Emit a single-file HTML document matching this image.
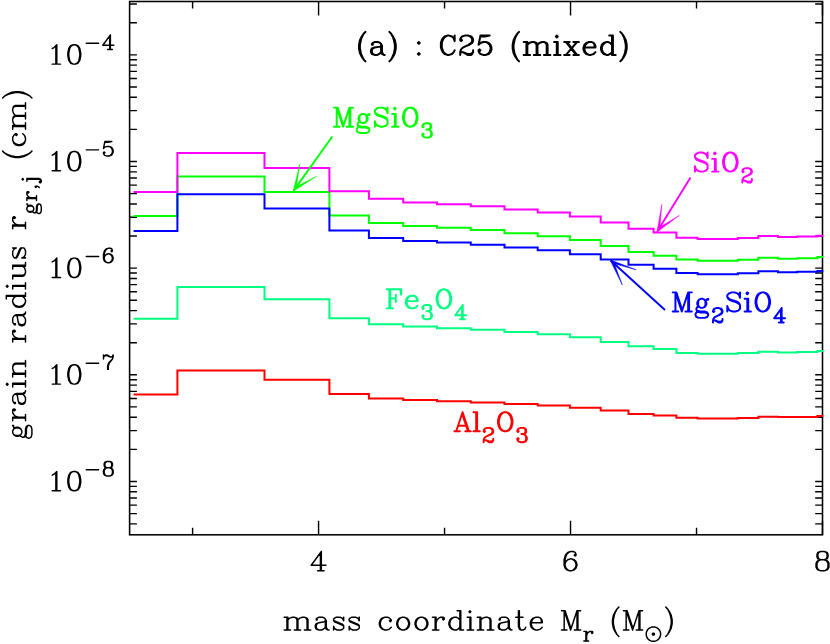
<!DOCTYPE html>
<html lang="en"><head><meta charset="utf-8"><title>Grain radius vs mass coordinate - (a) : C25 (mixed)</title>
<style>html,body{margin:0;padding:0;background:#fff;font-family:"Liberation Serif",serif}svg{display:block}</style>
</head><body>
<svg width="830" height="644" viewBox="0 0 830 644" role="img" aria-label="Grain radius versus mass coordinate, (a) : C25 (mixed)">
<rect width="830" height="644" fill="#fff"/>
<path d="M192.59 534.8v-7M192.59 1.5v7M318.57 534.8v-14M318.57 1.5v14M444.55 534.8v-7M444.55 1.5v7M570.54 534.8v-14M570.54 1.5v14M696.52 534.8v-7M696.52 1.5v7M822.50 534.8v-14M822.50 1.5v14M129.6 523.91h7.3M822.5 523.91h-7.3M129.6 513.58h7.3M822.5 513.58h-7.3M129.6 505.13h7.3M822.5 505.13h-7.3M129.6 497.99h7.3M822.5 497.99h-7.3M129.6 491.81h7.3M822.5 491.81h-7.3M129.6 486.35h7.3M822.5 486.35h-7.3M129.6 481.47h7.3M822.5 481.47h-7.3M129.6 449.36h7.3M822.5 449.36h-7.3M129.6 430.58h7.3M822.5 430.58h-7.3M129.6 417.25h7.3M822.5 417.25h-7.3M129.6 406.92h7.3M822.5 406.92h-7.3M129.6 398.47h7.3M822.5 398.47h-7.3M129.6 391.33h7.3M822.5 391.33h-7.3M129.6 385.15h7.3M822.5 385.15h-7.3M129.6 379.69h7.3M822.5 379.69h-7.3M129.6 374.81h7.3M822.5 374.81h-7.3M129.6 342.70h7.3M822.5 342.70h-7.3M129.6 323.92h7.3M822.5 323.92h-7.3M129.6 310.59h7.3M822.5 310.59h-7.3M129.6 300.26h7.3M822.5 300.26h-7.3M129.6 291.81h7.3M822.5 291.81h-7.3M129.6 284.67h7.3M822.5 284.67h-7.3M129.6 278.49h7.3M822.5 278.49h-7.3M129.6 273.03h7.3M822.5 273.03h-7.3M129.6 268.15h7.3M822.5 268.15h-7.3M129.6 236.04h7.3M822.5 236.04h-7.3M129.6 217.26h7.3M822.5 217.26h-7.3M129.6 203.93h7.3M822.5 203.93h-7.3M129.6 193.60h7.3M822.5 193.60h-7.3M129.6 185.15h7.3M822.5 185.15h-7.3M129.6 178.01h7.3M822.5 178.01h-7.3M129.6 171.83h7.3M822.5 171.83h-7.3M129.6 166.37h7.3M822.5 166.37h-7.3M129.6 161.49h7.3M822.5 161.49h-7.3M129.6 129.38h7.3M822.5 129.38h-7.3M129.6 110.60h7.3M822.5 110.60h-7.3M129.6 97.27h7.3M822.5 97.27h-7.3M129.6 86.94h7.3M822.5 86.94h-7.3M129.6 78.49h7.3M822.5 78.49h-7.3M129.6 71.35h7.3M822.5 71.35h-7.3M129.6 65.17h7.3M822.5 65.17h-7.3M129.6 59.71h7.3M822.5 59.71h-7.3M129.6 54.83h7.3M822.5 54.83h-7.3M129.6 22.72h7.3M822.5 22.72h-7.3M129.6 3.94h7.3M822.5 3.94h-7.3" stroke="#000" stroke-width="1.4" fill="none"/>
<rect x="129.6" y="1.5" width="692.90" height="533.30" fill="none" stroke="#000" stroke-width="1.55"/>
<g fill="none" stroke-width="2.0" stroke-linejoin="miter" stroke-linecap="butt">
<path d="M133.6 394.6H177.4V370.4H264.5V379.8H329.4V394.1H368.9V398.4H403.2V400.0H437.0V401.3H470.8V402.5H504.5V404.1H537.7V405.6H569.9V407.8H600.7V410.4H628.5V413.9H653.6V415.5H676.4V417.7H697.6V418.5H717.6V418.5H737.8V418.1H758.4V416.7H778.0V417.1H797.2V417.0H817.4V416.0H823.3" stroke="#ff0000"><title>Al2O3</title></path>
<path d="M133.6 318.7H177.4V287.0H264.5V299.3H329.4V318.2H368.9V324.2H403.2V326.4H437.0V328.2H470.8V329.8H504.5V332.0H537.7V334.2H569.9V337.3H600.7V341.9H628.5V346.3H653.6V349.1H676.4V352.9H697.6V353.8H717.6V353.8H737.8V353.1H758.4V351.7H778.0V352.4H797.2V351.9H817.4V351.0H823.3" stroke="#00ff80"><title>Fe3O4</title></path>
<path d="M133.6 216.1H177.4V176.6H264.5V192.0H329.4V215.6H368.9V222.9H403.2V225.9H437.0V227.8H470.8V230.1H504.5V233.3H537.7V236.2H569.9V240.1H600.7V245.9H628.5V252.0H653.6V255.7H676.4V259.4H697.6V260.7H717.6V260.7H737.8V259.8H758.4V257.8H778.0V258.8H797.2V258.2H817.4V257.0H823.3" stroke="#00ff00"><title>MgSiO3</title></path>
<path d="M133.6 231.0H177.4V194.2H264.5V208.4H329.4V230.6H368.9V237.9H403.2V240.9H437.0V242.6H470.8V244.8H504.5V247.5H537.7V250.2H569.9V254.2H600.7V259.4H628.5V264.8H653.6V268.8H676.4V272.9H697.6V274.2H717.6V274.2H737.8V273.3H758.4V271.3H778.0V272.3H797.2V271.7H817.4V270.9H823.3" stroke="#0000ff"><title>Mg2SiO4</title></path>
<path d="M133.6 192.0H177.4V152.9H264.5V168.0H329.4V191.3H368.9V198.8H403.2V202.4H437.0V204.3H470.8V206.2H504.5V209.5H537.7V212.6H569.9V216.4H600.7V222.4H628.5V228.7H653.6V232.6H676.4V237.7H697.6V238.9H717.6V238.9H737.8V238.0H758.4V236.0H778.0V237.0H797.2V236.4H817.4V235.7H823.3" stroke="#ff00ff"><title>SiO2</title></path>
</g>
<line x1="332.3" y1="136.5" x2="293.6" y2="190.6" stroke="#00ff00" stroke-width="1.9"/><polygon points="293.0,191.4 316.5,176.2 296.5,186.5 299.8,164.2" fill="#00ff00" stroke="#00ff00" stroke-width="0.5" stroke-linejoin="miter"/>
<line x1="690.5" y1="177.6" x2="657.4" y2="231.3" stroke="#ff00ff" stroke-width="1.9"/><polygon points="656.9,232.2 679.3,215.4 660.0,227.1 661.8,204.6" fill="#ff00ff" stroke="#ff00ff" stroke-width="0.5" stroke-linejoin="miter"/>
<line x1="665.0" y1="310.0" x2="610.7" y2="260.5" stroke="#0000ff" stroke-width="1.9"/><polygon points="610.0,259.8 622.3,284.9 614.4,263.8 636.2,269.8" fill="#0000ff" stroke="#0000ff" stroke-width="0.5" stroke-linejoin="miter"/>
<g fill="none" stroke-linecap="round" stroke-linejoin="round">
<g transform="translate(25.5 438.2) rotate(-90)" aria-label="grain radius r_gr,j (cm)"><path d="M5.49 -12.81L3.66 -11.89L2.75 -10.98L1.83 -9.15L1.83 -7.32L2.75 -5.49L3.66 -4.58L5.49 -3.66L7.32 -3.66L9.15 -4.58L10.06 -5.49L10.98 -7.32L10.98 -9.15L10.06 -10.98L9.15 -11.89L7.32 -12.81L5.49 -12.81M3.66 -11.89L2.75 -10.07L2.75 -6.41L3.66 -4.58M9.15 -4.58L10.06 -6.41L10.06 -10.07L9.15 -11.89M10.06 -10.98L10.98 -11.89L12.81 -12.81L12.81 -11.89L10.98 -11.89M2.75 -5.49L1.83 -4.58L0.92 -2.75L0.92 -1.83L1.83 0L4.58 0.92L9.15 0.92L11.9 1.83L12.81 2.75M0.92 -1.83L1.83 -0.92L4.58 0L9.15 0L11.9 0.92L12.81 2.75L12.81 3.66L11.9 5.49L9.15 6.41L3.66 6.41L0.92 5.49L0 3.66L0 2.75L0.92 0.92L3.66 0M20.13 -12.81L20.13 0M21.05 -12.81L21.05 0M21.05 -7.32L21.96 -10.07L23.79 -11.89L25.62 -12.81L28.37 -12.81L29.28 -11.89L29.28 -10.98L28.37 -10.07L27.45 -10.98L28.37 -11.89M17.39 -12.81L21.05 -12.81M17.39 0L23.79 0M35.69 -10.98L35.69 -10.07L34.77 -10.07L34.77 -10.98L35.69 -11.89L37.52 -12.81L41.17 -12.81L43 -11.89L43.92 -10.98L44.84 -9.15L44.84 -2.75L45.75 -0.92L46.66 0M43.92 -10.98L43.92 -2.75L44.84 -0.92L46.66 0L47.58 0M43.92 -9.15L43 -8.23L37.52 -7.32L34.77 -6.41L33.85 -4.58L33.85 -2.75L34.77 -0.92L37.52 0L40.26 0L42.09 -0.92L43.92 -2.75M37.52 -7.32L35.69 -6.41L34.77 -4.58L34.77 -2.75L35.69 -0.92L37.52 0M53.98 -19.21L53.07 -18.3L53.98 -17.39L54.9 -18.3L53.98 -19.21M53.98 -12.81L53.98 0M54.9 -12.81L54.9 0M51.24 -12.81L54.9 -12.81M51.24 0L57.64 0M64.05 -12.81L64.05 0M64.96 -12.81L64.96 0M64.96 -10.07L66.8 -11.89L69.54 -12.81L71.37 -12.81L74.11 -11.89L75.03 -10.07L75.03 0M71.37 -12.81L73.2 -11.89L74.11 -10.07L74.11 0M61.3 -12.81L64.96 -12.81M61.3 0L67.71 0M71.37 0L77.77 0M98.82 -12.81L98.82 0M99.73 -12.81L99.73 0M99.73 -7.32L100.65 -10.07L102.48 -11.89L104.31 -12.81L107.06 -12.81L107.97 -11.89L107.97 -10.98L107.06 -10.07L106.14 -10.98L107.06 -11.89M96.08 -12.81L99.73 -12.81M96.08 0L102.48 0M114.38 -10.98L114.38 -10.07L113.46 -10.07L113.46 -10.98L114.38 -11.89L116.2 -12.81L119.86 -12.81L121.69 -11.89L122.61 -10.98L123.52 -9.15L123.52 -2.75L124.44 -0.92L125.36 0M122.61 -10.98L122.61 -2.75L123.52 -0.92L125.36 0L126.27 0M122.61 -9.15L121.69 -8.23L116.2 -7.32L113.46 -6.41L112.55 -4.58L112.55 -2.75L113.46 -0.92L116.2 0L118.95 0L120.78 -0.92L122.61 -2.75M116.2 -7.32L114.38 -6.41L113.46 -4.58L113.46 -2.75L114.38 -0.92L116.2 0M141.82 -19.21L141.82 0M142.74 -19.21L142.74 0M141.82 -10.07L140 -11.89L138.16 -12.81L136.34 -12.81L133.59 -11.89L131.76 -10.07L130.84 -7.32L130.84 -5.49L131.76 -2.75L133.59 -0.92L136.34 0L138.16 0L140 -0.92L141.82 -2.75M136.34 -12.81L134.5 -11.89L132.67 -10.07L131.76 -7.32L131.76 -5.49L132.67 -2.75L134.5 -0.92L136.34 0M139.08 -19.21L142.74 -19.21M141.82 0L145.48 0M151.89 -19.21L150.97 -18.3L151.89 -17.39L152.81 -18.3L151.89 -19.21M151.89 -12.81L151.89 0M152.81 -12.81L152.81 0M149.15 -12.81L152.81 -12.81M149.15 0L155.55 0M161.95 -12.81L161.95 -2.75L162.87 -0.92L165.61 0L167.44 0L170.19 -0.92L172.02 -2.75M162.87 -12.81L162.87 -2.75L163.78 -0.92L165.61 0M172.02 -12.81L172.02 0M172.94 -12.81L172.94 0M159.21 -12.81L162.87 -12.81M169.28 -12.81L172.94 -12.81M172.02 0L175.68 0M189.41 -10.98L190.32 -12.81L190.32 -9.15L189.41 -10.98L188.49 -11.89L186.66 -12.81L183 -12.81L181.17 -11.89L180.25 -10.98L180.25 -9.15L181.17 -8.23L183 -7.32L187.57 -5.49L189.41 -4.58L190.32 -3.66M180.25 -10.07L181.17 -9.15L183 -8.23L187.57 -6.41L189.41 -5.49L190.32 -4.58L190.32 -1.83L189.41 -0.92L187.57 0L183.91 0L182.08 -0.92L181.17 -1.83L180.25 -3.66L180.25 0L181.17 -1.83M212.28 -12.81L212.28 0M213.2 -12.81L213.2 0M213.2 -7.32L214.11 -10.07L215.94 -11.89L217.77 -12.81L220.52 -12.81L221.43 -11.89L221.43 -10.98L220.52 -10.07L219.6 -10.98L220.52 -11.89M209.54 -12.81L213.2 -12.81M209.54 0L215.94 0M228.75 1.37L227.38 2.06L226.69 2.75L226.01 4.12L226.01 5.49L226.69 6.86L227.38 7.55L228.75 8.23L230.12 8.23L231.5 7.55L232.18 6.86L232.87 5.49L232.87 4.12L232.18 2.75L231.5 2.06L230.12 1.37L228.75 1.37M227.38 2.06L226.69 3.43L226.69 6.18L227.38 7.55M231.5 7.55L232.18 6.18L232.18 3.43L231.5 2.06M232.18 2.75L232.87 2.06L234.24 1.37L234.24 2.06L232.87 2.06M226.69 6.86L226.01 7.55L225.32 8.92L225.32 9.61L226.01 10.98L228.06 11.67L231.5 11.67L233.55 12.35L234.24 13.04M225.32 9.61L226.01 10.29L228.06 10.98L231.5 10.98L233.55 11.67L234.24 13.04L234.24 13.73L233.55 15.1L231.5 15.78L227.38 15.78L225.32 15.1L224.63 13.73L224.63 13.04L225.32 11.67L227.38 10.98M239.73 1.37L239.73 10.98M240.42 1.37L240.42 10.98M240.42 5.49L241.1 3.43L242.48 2.06L243.85 1.37L245.91 1.37L246.59 2.06L246.59 2.75L245.91 3.43L245.22 2.75L245.91 2.06M237.67 1.37L240.42 1.37M237.67 10.98L242.48 10.98M251.4 10.98L250.71 10.29L251.4 9.61L252.08 10.29L252.08 11.67L251.4 13.04L250.71 13.73M258.95 -3.43L258.26 -2.75L258.95 -2.06L259.63 -2.75L258.95 -3.43M259.63 1.37L259.63 13.73L258.95 15.1L257.57 15.78L256.2 15.78L255.51 15.1L255.51 14.41L256.2 13.73L256.89 14.41L256.2 15.1M258.95 1.37L258.95 13.73L258.26 15.1L257.57 15.78M256.89 1.37L259.63 1.37M287.08 -22.88L285.25 -21.05L283.42 -18.3L281.59 -14.64L280.68 -10.07L280.68 -6.41L281.59 -1.83L283.42 1.83L285.25 4.58L287.08 6.41M285.25 -21.05L283.42 -17.39L282.51 -14.64L281.59 -10.07L281.59 -6.41L282.51 -1.83L283.42 0.92L285.25 4.58M303.55 -10.07L302.64 -9.15L303.55 -8.23L304.47 -9.15L304.47 -10.07L302.64 -11.89L300.81 -12.81L298.06 -12.81L295.32 -11.89L293.49 -10.07L292.57 -7.32L292.57 -5.49L293.49 -2.75L295.32 -0.92L298.06 0L299.89 0L302.64 -0.92L304.47 -2.75M298.06 -12.81L296.23 -11.89L294.4 -10.07L293.49 -7.32L293.49 -5.49L294.4 -2.75L296.23 -0.92L298.06 0M311.79 -12.81L311.79 0M312.7 -12.81L312.7 0M312.7 -10.07L314.53 -11.89L317.28 -12.81L319.11 -12.81L321.85 -11.89L322.77 -10.07L322.77 0M319.11 -12.81L320.94 -11.89L321.85 -10.07L321.85 0M322.77 -10.07L324.6 -11.89L327.34 -12.81L329.17 -12.81L331.92 -11.89L332.83 -10.07L332.83 0M329.17 -12.81L331 -11.89L331.92 -10.07L331.92 0M309.04 -12.81L312.7 -12.81M309.04 0L315.45 0M319.11 0L325.51 0M329.17 0L335.58 0M340.15 -22.88L341.98 -21.05L343.81 -18.3L345.64 -14.64L346.56 -10.07L346.56 -6.41L345.64 -1.83L343.81 1.83L341.98 4.58L340.15 6.41M341.98 -21.05L343.81 -17.39L344.73 -14.64L345.64 -10.07L345.64 -6.41L344.73 -1.83L343.81 0.92L341.98 4.58" stroke="#000" stroke-width="1.45"/></g>
<g transform="translate(0 54.9)" aria-label="(a) : C25 (mixed)"><path d="M365.44 -23L363.6 -21.16L361.76 -18.4L359.92 -14.72L359 -10.12L359 -6.44L359.92 -1.84L361.76 1.84L363.6 4.6L365.44 6.44M363.6 -21.16L361.76 -17.48L360.84 -14.72L359.92 -10.12L359.92 -6.44L360.84 -1.84L361.76 0.92L363.6 4.6M372.8 -11.04L372.8 -10.12L371.88 -10.12L371.88 -11.04L372.8 -11.96L374.64 -12.88L378.32 -12.88L380.16 -11.96L381.08 -11.04L382 -9.2L382 -2.76L382.92 -0.92L383.84 0M381.08 -11.04L381.08 -2.76L382 -0.92L383.84 0L384.76 0M381.08 -9.2L380.16 -8.28L374.64 -7.36L371.88 -6.44L370.96 -4.6L370.96 -2.76L371.88 -0.92L374.64 0L377.4 0L379.24 -0.92L381.08 -2.76M374.64 -7.36L372.8 -6.44L371.88 -4.6L371.88 -2.76L372.8 -0.92L374.64 0M389.36 -23L391.2 -21.16L393.04 -18.4L394.88 -14.72L395.8 -10.12L395.8 -6.44L394.88 -1.84L393.04 1.84L391.2 4.6L389.36 6.44M391.2 -21.16L393.04 -17.48L393.96 -14.72L394.88 -10.12L394.88 -6.44L393.96 -1.84L393.04 0.92L391.2 4.6M418.8 -12.88L417.88 -11.96L418.8 -11.04L419.72 -11.96L418.8 -12.88M418.8 -1.84L417.88 -0.92L418.8 0L419.72 -0.92L418.8 -1.84M453.76 -16.56L454.68 -13.8L454.68 -19.32L453.76 -16.56L451.92 -18.4L449.16 -19.32L447.32 -19.32L444.56 -18.4L442.72 -16.56L441.8 -14.72L440.88 -11.96L440.88 -7.36L441.8 -4.6L442.72 -2.76L444.56 -0.92L447.32 0L449.16 0L451.92 -0.92L453.76 -2.76L454.68 -4.6M447.32 -19.32L445.48 -18.4L443.64 -16.56L442.72 -14.72L441.8 -11.96L441.8 -7.36L442.72 -4.6L443.64 -2.76L445.48 -0.92L447.32 0M461.12 -15.64L462.04 -14.72L461.12 -13.8L460.2 -14.72L460.2 -15.64L461.12 -17.48L462.04 -18.4L464.8 -19.32L468.48 -19.32L471.24 -18.4L472.16 -17.48L473.08 -15.64L473.08 -13.8L472.16 -11.96L469.4 -10.12L464.8 -8.28L462.96 -7.36L461.12 -5.52L460.2 -2.76L460.2 0M468.48 -19.32L470.32 -18.4L471.24 -17.48L472.16 -15.64L472.16 -13.8L471.24 -11.96L468.48 -10.12L464.8 -8.28M460.2 -1.84L461.12 -2.76L462.96 -2.76L467.56 -0.92L470.32 -0.92L472.16 -1.84L473.08 -2.76M462.96 -2.76L467.56 0L471.24 0L472.16 -0.92L473.08 -2.76L473.08 -4.6M480.44 -19.32L478.6 -10.12M478.6 -10.12L480.44 -11.96L483.2 -12.88L485.96 -12.88L488.72 -11.96L490.56 -10.12L491.48 -7.36L491.48 -5.52L490.56 -2.76L488.72 -0.92L485.96 0L483.2 0L480.44 -0.92L479.52 -1.84L478.6 -3.68L478.6 -4.6L479.52 -5.52L480.44 -4.6L479.52 -3.68M485.96 -12.88L487.8 -11.96L489.64 -10.12L490.56 -7.36L490.56 -5.52L489.64 -2.76L487.8 -0.92L485.96 0M480.44 -19.32L489.64 -19.32M480.44 -18.4L485.04 -18.4L489.64 -19.32M519.08 -23L517.24 -21.16L515.4 -18.4L513.56 -14.72L512.64 -10.12L512.64 -6.44L513.56 -1.84L515.4 1.84L517.24 4.6L519.08 6.44M517.24 -21.16L515.4 -17.48L514.48 -14.72L513.56 -10.12L513.56 -6.44L514.48 -1.84L515.4 0.92L517.24 4.6M526.44 -12.88L526.44 0M527.36 -12.88L527.36 0M527.36 -10.12L529.2 -11.96L531.96 -12.88L533.8 -12.88L536.56 -11.96L537.48 -10.12L537.48 0M533.8 -12.88L535.64 -11.96L536.56 -10.12L536.56 0M537.48 -10.12L539.32 -11.96L542.08 -12.88L543.92 -12.88L546.68 -11.96L547.6 -10.12L547.6 0M543.92 -12.88L545.76 -11.96L546.68 -10.12L546.68 0M523.68 -12.88L527.36 -12.88M523.68 0L530.12 0M533.8 0L540.24 0M543.92 0L550.36 0M556.8 -19.32L555.88 -18.4L556.8 -17.48L557.72 -18.4L556.8 -19.32M556.8 -12.88L556.8 0M557.72 -12.88L557.72 0M554.04 -12.88L557.72 -12.88M554.04 0L560.48 0M566 -12.88L576.12 0M566.92 -12.88L577.04 0M577.04 -12.88L566 0M564.16 -12.88L569.68 -12.88M573.36 -12.88L578.88 -12.88M564.16 0L569.68 0M573.36 0L578.88 0M584.4 -7.36L595.44 -7.36L595.44 -9.2L594.52 -11.04L593.6 -11.96L591.76 -12.88L589 -12.88L586.24 -11.96L584.4 -10.12L583.48 -7.36L583.48 -5.52L584.4 -2.76L586.24 -0.92L589 0L590.84 0L593.6 -0.92L595.44 -2.76M594.52 -7.36L594.52 -10.12L593.6 -11.96M589 -12.88L587.16 -11.96L585.32 -10.12L584.4 -7.36L584.4 -5.52L585.32 -2.76L587.16 -0.92L589 0M612 -19.32L612 0M612.92 -19.32L612.92 0M612 -10.12L610.16 -11.96L608.32 -12.88L606.48 -12.88L603.72 -11.96L601.88 -10.12L600.96 -7.36L600.96 -5.52L601.88 -2.76L603.72 -0.92L606.48 0L608.32 0L610.16 -0.92L612 -2.76M606.48 -12.88L604.64 -11.96L602.8 -10.12L601.88 -7.36L601.88 -5.52L602.8 -2.76L604.64 -0.92L606.48 0M609.24 -19.32L612.92 -19.32M612 0L615.68 0M620.28 -23L622.12 -21.16L623.96 -18.4L625.8 -14.72L626.72 -10.12L626.72 -6.44L625.8 -1.84L623.96 1.84L622.12 4.6L620.28 6.44M622.12 -21.16L623.96 -17.48L624.88 -14.72L625.8 -10.12L625.8 -6.44L624.88 -1.84L623.96 0.92L622.12 4.6" stroke="#000" stroke-width="2.0"/></g>
<g transform="translate(0 126.7)" aria-label="MgSiO3"><path d="M336.72 -19.07L336.72 0M337.63 -19.07L343.08 -2.72M336.72 -19.07L343.08 0M349.44 -19.07L343.08 0M349.44 -19.07L349.44 0M350.34 -19.07L350.34 0M334 -19.07L337.63 -19.07M349.44 -19.07L353.07 -19.07M334 0L339.45 0M346.71 0L353.07 0M362.15 -12.71L360.33 -11.8L359.42 -10.9L358.52 -9.08L358.52 -7.26L359.42 -5.45L360.33 -4.54L362.15 -3.63L363.96 -3.63L365.78 -4.54L366.69 -5.45L367.6 -7.26L367.6 -9.08L366.69 -10.9L365.78 -11.8L363.96 -12.71L362.15 -12.71M360.33 -11.8L359.42 -9.99L359.42 -6.36L360.33 -4.54M365.78 -4.54L366.69 -6.36L366.69 -9.99L365.78 -11.8M366.69 -10.9L367.6 -11.8L369.41 -12.71L369.41 -11.8L367.6 -11.8M359.42 -5.45L358.52 -4.54L357.61 -2.72L357.61 -1.82L358.52 0L361.24 0.91L365.78 0.91L368.5 1.82L369.41 2.72M357.61 -1.82L358.52 -0.91L361.24 0L365.78 0L368.5 0.91L369.41 2.72L369.41 3.63L368.5 5.45L365.78 6.36L360.33 6.36L357.61 5.45L356.7 3.63L356.7 2.72L357.61 0.91L360.33 0M386.66 -16.34L387.57 -19.07L387.57 -13.62L386.66 -16.34L384.85 -18.16L382.12 -19.07L379.4 -19.07L376.68 -18.16L374.86 -16.34L374.86 -14.53L375.77 -12.71L376.68 -11.8L378.49 -10.9L383.94 -9.08L385.76 -8.17L387.57 -6.36M374.86 -14.53L376.68 -12.71L378.49 -11.8L383.94 -9.99L385.76 -9.08L386.66 -8.17L387.57 -6.36L387.57 -2.72L385.76 -0.91L383.03 0L380.31 0L377.58 -0.91L375.77 -2.72L374.86 -5.45L374.86 0L375.77 -2.72M394.84 -19.07L393.93 -18.16L394.84 -17.25L395.74 -18.16L394.84 -19.07M394.84 -12.71L394.84 0M395.74 -12.71L395.74 0M392.11 -12.71L395.74 -12.71M392.11 0L398.47 0M409.36 -19.07L406.64 -18.16L404.82 -16.34L403.92 -14.53L403.01 -10.9L403.01 -8.17L403.92 -4.54L404.82 -2.72L406.64 -0.91L409.36 0L411.18 0L413.9 -0.91L415.72 -2.72L416.63 -4.54L417.54 -8.17L417.54 -10.9L416.63 -14.53L415.72 -16.34L413.9 -18.16L411.18 -19.07L409.36 -19.07M409.36 -19.07L407.55 -18.16L405.73 -16.34L404.82 -14.53L403.92 -10.9L403.92 -8.17L404.82 -4.54L405.73 -2.72L407.55 -0.91L409.36 0M411.18 0L413 -0.91L414.81 -2.72L415.72 -4.54L416.63 -8.17L416.63 -10.9L415.72 -14.53L414.81 -16.34L413 -18.16L411.18 -19.07M422.98 -0.68L423.67 0L422.98 0.68L422.3 0L422.3 -0.68L422.98 -2.04L423.67 -2.72L425.71 -3.41L428.43 -3.41L430.48 -2.72L431.16 -1.36L431.16 0.68L430.48 2.04L428.43 2.72L426.39 2.72M428.43 -3.41L429.79 -2.72L430.48 -1.36L430.48 0.68L429.79 2.04L428.43 2.72M428.43 2.72L429.79 3.41L431.16 4.77L431.84 6.13L431.84 8.17L431.16 9.53L430.48 10.21L428.43 10.9L425.71 10.9L423.67 10.21L422.98 9.53L422.3 8.17L422.3 7.49L422.98 6.81L423.67 7.49L422.98 8.17M430.48 4.09L431.16 6.13L431.16 8.17L430.48 9.53L429.79 10.21L428.43 10.9" stroke="#00ff00" stroke-width="1.95"/></g>
<g transform="translate(0 171.6)" aria-label="SiO2"><path d="M706.7 -16.34L707.61 -19.07L707.61 -13.62L706.7 -16.34L704.89 -18.16L702.16 -19.07L699.44 -19.07L696.72 -18.16L694.9 -16.34L694.9 -14.53L695.81 -12.71L696.72 -11.8L698.53 -10.9L703.98 -9.08L705.8 -8.17L707.61 -6.36M694.9 -14.53L696.72 -12.71L698.53 -11.8L703.98 -9.99L705.8 -9.08L706.7 -8.17L707.61 -6.36L707.61 -2.72L705.8 -0.91L703.07 0L700.35 0L697.62 -0.91L695.81 -2.72L694.9 -5.45L694.9 0L695.81 -2.72M714.88 -19.07L713.97 -18.16L714.88 -17.25L715.78 -18.16L714.88 -19.07M714.88 -12.71L714.88 0M715.78 -12.71L715.78 0M712.15 -12.71L715.78 -12.71M712.15 0L718.51 0M729.4 -19.07L726.68 -18.16L724.86 -16.34L723.96 -14.53L723.05 -10.9L723.05 -8.17L723.96 -4.54L724.86 -2.72L726.68 -0.91L729.4 0L731.22 0L733.94 -0.91L735.76 -2.72L736.67 -4.54L737.58 -8.17L737.58 -10.9L736.67 -14.53L735.76 -16.34L733.94 -18.16L731.22 -19.07L729.4 -19.07M729.4 -19.07L727.59 -18.16L725.77 -16.34L724.86 -14.53L723.96 -10.9L723.96 -8.17L724.86 -4.54L725.77 -2.72L727.59 -0.91L729.4 0M731.22 0L733.04 -0.91L734.85 -2.72L735.76 -4.54L736.67 -8.17L736.67 -10.9L735.76 -14.53L734.85 -16.34L733.04 -18.16L731.22 -19.07M743.02 -0.68L743.7 0L743.02 0.68L742.34 0L742.34 -0.68L743.02 -2.04L743.7 -2.72L745.75 -3.41L748.47 -3.41L750.51 -2.72L751.2 -2.04L751.88 -0.68L751.88 0.68L751.2 2.04L749.15 3.41L745.75 4.77L744.39 5.45L743.02 6.81L742.34 8.85L742.34 10.9M748.47 -3.41L749.83 -2.72L750.51 -2.04L751.2 -0.68L751.2 0.68L750.51 2.04L748.47 3.41L745.75 4.77M742.34 9.53L743.02 8.85L744.39 8.85L747.79 10.21L749.83 10.21L751.2 9.53L751.88 8.85M744.39 8.85L747.79 10.9L750.51 10.9L751.2 10.21L751.88 8.85L751.88 7.49" stroke="#ff00ff" stroke-width="1.95"/></g>
<g transform="translate(0 311.5)" aria-label="Mg2SiO4"><path d="M675.43 -19.11L675.43 0M676.34 -19.11L681.8 -2.73M675.43 -19.11L681.8 0M688.17 -19.11L681.8 0M688.17 -19.11L688.17 0M689.08 -19.11L689.08 0M672.7 -19.11L676.34 -19.11M688.17 -19.11L691.81 -19.11M672.7 0L678.16 0M685.44 0L691.81 0M700.91 -12.74L699.09 -11.83L698.18 -10.92L697.27 -9.1L697.27 -7.28L698.18 -5.46L699.09 -4.55L700.91 -3.64L702.73 -3.64L704.55 -4.55L705.46 -5.46L706.37 -7.28L706.37 -9.1L705.46 -10.92L704.55 -11.83L702.73 -12.74L700.91 -12.74M699.09 -11.83L698.18 -10.01L698.18 -6.37L699.09 -4.55M704.55 -4.55L705.46 -6.37L705.46 -10.01L704.55 -11.83M705.46 -10.92L706.37 -11.83L708.19 -12.74L708.19 -11.83L706.37 -11.83M698.18 -5.46L697.27 -4.55L696.36 -2.73L696.36 -1.82L697.27 0L700 0.91L704.55 0.91L707.28 1.82L708.19 2.73M696.36 -1.82L697.27 -0.91L700 0L704.55 0L707.28 0.91L708.19 2.73L708.19 3.64L707.28 5.46L704.55 6.37L699.09 6.37L696.36 5.46L695.45 3.64L695.45 2.73L696.36 0.91L699.09 0M713.65 -0.68L714.33 0L713.65 0.68L712.97 0L712.97 -0.68L713.65 -2.05L714.33 -2.73L716.38 -3.41L719.11 -3.41L721.16 -2.73L721.84 -2.05L722.52 -0.68L722.52 0.68L721.84 2.05L719.79 3.41L716.38 4.78L715.01 5.46L713.65 6.83L712.97 8.87L712.97 10.92M719.11 -3.41L720.47 -2.73L721.16 -2.05L721.84 -0.68L721.84 0.68L721.16 2.05L719.11 3.41L716.38 4.78M712.97 9.55L713.65 8.87L715.01 8.87L718.43 10.24L720.47 10.24L721.84 9.55L722.52 8.87M715.01 8.87L718.43 10.92L721.16 10.92L721.84 10.24L722.52 8.87L722.52 7.51M739.13 -16.38L740.04 -19.11L740.04 -13.65L739.13 -16.38L737.31 -18.2L734.58 -19.11L731.85 -19.11L729.12 -18.2L727.3 -16.38L727.3 -14.56L728.21 -12.74L729.12 -11.83L730.94 -10.92L736.4 -9.1L738.22 -8.19L740.04 -6.37M727.3 -14.56L729.12 -12.74L730.94 -11.83L736.4 -10.01L738.22 -9.1L739.13 -8.19L740.04 -6.37L740.04 -2.73L738.22 -0.91L735.49 0L732.76 0L730.03 -0.91L728.21 -2.73L727.3 -5.46L727.3 0L728.21 -2.73M747.32 -19.11L746.41 -18.2L747.32 -17.29L748.23 -18.2L747.32 -19.11M747.32 -12.74L747.32 0M748.23 -12.74L748.23 0M744.59 -12.74L748.23 -12.74M744.59 0L750.96 0M761.88 -19.11L759.15 -18.2L757.33 -16.38L756.42 -14.56L755.51 -10.92L755.51 -8.19L756.42 -4.55L757.33 -2.73L759.15 -0.91L761.88 0L763.7 0L766.43 -0.91L768.25 -2.73L769.16 -4.55L770.07 -8.19L770.07 -10.92L769.16 -14.56L768.25 -16.38L766.43 -18.2L763.7 -19.11L761.88 -19.11M761.88 -19.11L760.06 -18.2L758.24 -16.38L757.33 -14.56L756.42 -10.92L756.42 -8.19L757.33 -4.55L758.24 -2.73L760.06 -0.91L761.88 0M763.7 0L765.52 -0.91L767.34 -2.73L768.25 -4.55L769.16 -8.19L769.16 -10.92L768.25 -14.56L767.34 -16.38L765.52 -18.2L763.7 -19.11M780.99 -2.05L780.99 10.92M781.67 -3.41L781.67 10.92M781.67 -3.41L774.16 6.83L785.08 6.83M778.94 10.92L783.72 10.92" stroke="#0000ff" stroke-width="1.95"/></g>
<g transform="translate(0 308.4)" aria-label="Fe3O4"><path d="M389.42 -19.07L389.42 0M390.33 -19.07L390.33 0M395.78 -13.62L395.78 -6.36M386.7 -19.07L401.23 -19.07L401.23 -13.62L400.32 -19.07M390.33 -9.99L395.78 -9.99M386.7 0L393.06 0M406.68 -7.26L417.57 -7.26L417.57 -9.08L416.66 -10.9L415.76 -11.8L413.94 -12.71L411.22 -12.71L408.49 -11.8L406.68 -9.99L405.77 -7.26L405.77 -5.45L406.68 -2.72L408.49 -0.91L411.22 0L413.03 0L415.76 -0.91L417.57 -2.72M416.66 -7.26L416.66 -9.99L415.76 -11.8M411.22 -12.71L409.4 -11.8L407.58 -9.99L406.68 -7.26L406.68 -5.45L407.58 -2.72L409.4 -0.91L411.22 0M423.02 -0.68L423.7 0L423.02 0.68L422.34 0L422.34 -0.68L423.02 -2.04L423.7 -2.72L425.74 -3.41L428.47 -3.41L430.51 -2.72L431.19 -1.36L431.19 0.68L430.51 2.04L428.47 2.72L426.43 2.72M428.47 -3.41L429.83 -2.72L430.51 -1.36L430.51 0.68L429.83 2.04L428.47 2.72M428.47 2.72L429.83 3.41L431.19 4.77L431.87 6.13L431.87 8.17L431.19 9.53L430.51 10.21L428.47 10.9L425.74 10.9L423.7 10.21L423.02 9.53L422.34 8.17L422.34 7.49L423.02 6.81L423.7 7.49L423.02 8.17M430.51 4.09L431.19 6.13L431.19 8.17L430.51 9.53L429.83 10.21L428.47 10.9M443 -19.07L440.27 -18.16L438.46 -16.34L437.55 -14.53L436.64 -10.9L436.64 -8.17L437.55 -4.54L438.46 -2.72L440.27 -0.91L443 0L444.81 0L447.54 -0.91L449.35 -2.72L450.26 -4.54L451.17 -8.17L451.17 -10.9L450.26 -14.53L449.35 -16.34L447.54 -18.16L444.81 -19.07L443 -19.07M443 -19.07L441.18 -18.16L439.36 -16.34L438.46 -14.53L437.55 -10.9L437.55 -8.17L438.46 -4.54L439.36 -2.72L441.18 -0.91L443 0M444.81 0L446.63 -0.91L448.44 -2.72L449.35 -4.54L450.26 -8.17L450.26 -10.9L449.35 -14.53L448.44 -16.34L446.63 -18.16L444.81 -19.07M462.06 -2.04L462.06 10.9M462.75 -3.41L462.75 10.9M462.75 -3.41L455.25 6.81L466.15 6.81M460.02 10.9L464.79 10.9" stroke="#00ff80" stroke-width="1.95"/></g>
<g transform="translate(0 431.3)" aria-label="Al2O3"><path d="M462.57 -19.07L456.22 0M462.57 -19.07L468.93 0M462.57 -16.34L468.02 0M458.03 -5.45L466.2 -5.45M454.4 0L459.85 0M465.3 0L470.74 0M476.19 -19.07L476.19 0M477.1 -19.07L477.1 0M473.47 -19.07L477.1 -19.07M473.47 0L479.82 0M484.36 -0.68L485.04 0L484.36 0.68L483.68 0L483.68 -0.68L484.36 -2.04L485.04 -2.72L487.09 -3.41L489.81 -3.41L491.85 -2.72L492.54 -2.04L493.22 -0.68L493.22 0.68L492.54 2.04L490.49 3.41L487.09 4.77L485.73 5.45L484.36 6.81L483.68 8.85L483.68 10.9M489.81 -3.41L491.17 -2.72L491.85 -2.04L492.54 -0.68L492.54 0.68L491.85 2.04L489.81 3.41L487.09 4.77M483.68 9.53L484.36 8.85L485.73 8.85L489.13 10.21L491.17 10.21L492.54 9.53L493.22 8.85M485.73 8.85L489.13 10.9L491.85 10.9L492.54 10.21L493.22 8.85L493.22 7.49M504.34 -19.07L501.62 -18.16L499.8 -16.34L498.89 -14.53L497.98 -10.9L497.98 -8.17L498.89 -4.54L499.8 -2.72L501.62 -0.91L504.34 0L506.16 0L508.88 -0.91L510.7 -2.72L511.6 -4.54L512.51 -8.17L512.51 -10.9L511.6 -14.53L510.7 -16.34L508.88 -18.16L506.16 -19.07L504.34 -19.07M504.34 -19.07L502.52 -18.16L500.71 -16.34L499.8 -14.53L498.89 -10.9L498.89 -8.17L499.8 -4.54L500.71 -2.72L502.52 -0.91L504.34 0M506.16 0L507.97 -0.91L509.79 -2.72L510.7 -4.54L511.6 -8.17L511.6 -10.9L510.7 -14.53L509.79 -16.34L507.97 -18.16L506.16 -19.07M517.96 -0.68L518.64 0L517.96 0.68L517.28 0L517.28 -0.68L517.96 -2.04L518.64 -2.72L520.68 -3.41L523.41 -3.41L525.45 -2.72L526.13 -1.36L526.13 0.68L525.45 2.04L523.41 2.72L521.37 2.72M523.41 -3.41L524.77 -2.72L525.45 -1.36L525.45 0.68L524.77 2.04L523.41 2.72M523.41 2.72L524.77 3.41L526.13 4.77L526.81 6.13L526.81 8.17L526.13 9.53L525.45 10.21L523.41 10.9L520.68 10.9L518.64 10.21L517.96 9.53L517.28 8.17L517.28 7.49L517.96 6.81L518.64 7.49L517.96 8.17M525.45 4.09L526.13 6.13L526.13 8.17L525.45 9.53L524.77 10.21L523.41 10.9" stroke="#ff0000" stroke-width="1.95"/></g>
<g transform="translate(0 570.8)" aria-label="4"><path d="M320.41 -17.48L320.41 0M321.33 -19.32L321.33 0M321.33 -19.32L311.21 -5.52L325.93 -5.52M317.65 0L324.09 0" stroke="#000" stroke-width="1.45"/></g>
<g transform="translate(0 570.8)" aria-label="6"><path d="M575.14 -16.56L574.22 -15.64L575.14 -14.72L576.06 -15.64L576.06 -16.56L575.14 -18.4L573.3 -19.32L570.54 -19.32L567.78 -18.4L565.94 -16.56L565.02 -14.72L564.1 -11.04L564.1 -5.52L565.02 -2.76L566.86 -0.92L569.62 0L571.46 0L574.22 -0.92L576.06 -2.76L576.98 -5.52L576.98 -6.44L576.06 -9.2L574.22 -11.04L571.46 -11.96L570.54 -11.96L567.78 -11.04L565.94 -9.2L565.02 -6.44M570.54 -19.32L568.7 -18.4L566.86 -16.56L565.94 -14.72L565.02 -11.04L565.02 -5.52L565.94 -2.76L567.78 -0.92L569.62 0M571.46 0L573.3 -0.92L575.14 -2.76L576.06 -5.52L576.06 -6.44L575.14 -9.2L573.3 -11.04L571.46 -11.96" stroke="#000" stroke-width="1.45"/></g>
<g transform="translate(0 570.8)" aria-label="8"><path d="M820.66 -19.32L817.9 -18.4L816.98 -16.56L816.98 -13.8L817.9 -11.96L820.66 -11.04L824.34 -11.04L827.1 -11.96L828.02 -13.8L828.02 -16.56L827.1 -18.4L824.34 -19.32L820.66 -19.32M820.66 -19.32L818.82 -18.4L817.9 -16.56L817.9 -13.8L818.82 -11.96L820.66 -11.04M824.34 -11.04L826.18 -11.96L827.1 -13.8L827.1 -16.56L826.18 -18.4L824.34 -19.32M820.66 -11.04L817.9 -10.12L816.98 -9.2L816.06 -7.36L816.06 -3.68L816.98 -1.84L817.9 -0.92L820.66 0L824.34 0L827.1 -0.92L828.02 -1.84L828.94 -3.68L828.94 -7.36L828.02 -9.2L827.1 -10.12L824.34 -11.04M820.66 -11.04L818.82 -10.12L817.9 -9.2L816.98 -7.36L816.98 -3.68L817.9 -1.84L818.82 -0.92L820.66 0M824.34 0L826.18 -0.92L827.1 -1.84L828.02 -3.68L828.02 -7.36L827.1 -9.2L826.18 -10.12L824.34 -11.04" stroke="#000" stroke-width="1.45"/></g>
<g transform="translate(0 490.77)" aria-label="10^-8"><path d="M52.2 -15.64L54.04 -16.56L56.8 -19.32L56.8 0M55.88 -18.4L55.88 0M52.2 0L60.48 0M73.36 -19.32L70.6 -18.4L68.76 -15.64L67.84 -11.04L67.84 -8.28L68.76 -3.68L70.6 -0.92L73.36 0L75.2 0L77.96 -0.92L79.8 -3.68L80.72 -8.28L80.72 -11.04L79.8 -15.64L77.96 -18.4L75.2 -19.32L73.36 -19.32M73.36 -19.32L71.52 -18.4L70.6 -17.48L69.68 -15.64L68.76 -11.04L68.76 -8.28L69.68 -3.68L70.6 -1.84L71.52 -0.92L73.36 0M75.2 0L77.04 -0.92L77.96 -1.84L78.88 -3.68L79.8 -8.28L79.8 -11.04L78.88 -15.64L77.96 -17.48L77.04 -18.4L75.2 -19.32M86.24 -20.93L98.66 -20.93M106.94 -29.21L104.87 -28.52L104.18 -27.14L104.18 -25.07L104.87 -23.69L106.94 -23L109.7 -23L111.77 -23.69L112.46 -25.07L112.46 -27.14L111.77 -28.52L109.7 -29.21L106.94 -29.21M106.94 -29.21L105.56 -28.52L104.87 -27.14L104.87 -25.07L105.56 -23.69L106.94 -23M109.7 -23L111.08 -23.69L111.77 -25.07L111.77 -27.14L111.08 -28.52L109.7 -29.21M106.94 -23L104.87 -22.31L104.18 -21.62L103.49 -20.24L103.49 -17.48L104.18 -16.1L104.87 -15.41L106.94 -14.72L109.7 -14.72L111.77 -15.41L112.46 -16.1L113.15 -17.48L113.15 -20.24L112.46 -21.62L111.77 -22.31L109.7 -23M106.94 -23L105.56 -22.31L104.87 -21.62L104.18 -20.24L104.18 -17.48L104.87 -16.1L105.56 -15.41L106.94 -14.72M109.7 -14.72L111.08 -15.41L111.77 -16.1L112.46 -17.48L112.46 -20.24L111.77 -21.62L111.08 -22.31L109.7 -23" stroke="#000" stroke-width="1.45"/></g>
<g transform="translate(0 384.11)" aria-label="10^-7"><path d="M52.2 -15.64L54.04 -16.56L56.8 -19.32L56.8 0M55.88 -18.4L55.88 0M52.2 0L60.48 0M73.36 -19.32L70.6 -18.4L68.76 -15.64L67.84 -11.04L67.84 -8.28L68.76 -3.68L70.6 -0.92L73.36 0L75.2 0L77.96 -0.92L79.8 -3.68L80.72 -8.28L80.72 -11.04L79.8 -15.64L77.96 -18.4L75.2 -19.32L73.36 -19.32M73.36 -19.32L71.52 -18.4L70.6 -17.48L69.68 -15.64L68.76 -11.04L68.76 -8.28L69.68 -3.68L70.6 -1.84L71.52 -0.92L73.36 0M75.2 0L77.04 -0.92L77.96 -1.84L78.88 -3.68L79.8 -8.28L79.8 -11.04L78.88 -15.64L77.96 -17.48L77.04 -18.4L75.2 -19.32M86.24 -20.93L98.66 -20.93M103.49 -29.21L103.49 -25.07M103.49 -26.45L104.18 -27.83L105.56 -29.21L106.94 -29.21L110.39 -27.14L111.77 -27.14L112.46 -27.83L113.15 -29.21M104.18 -27.83L105.56 -28.52L106.94 -28.52L110.39 -27.14M113.15 -29.21L113.15 -27.14L112.46 -25.07L109.7 -21.62L109.01 -20.24L108.32 -18.17L108.32 -14.72M112.46 -25.07L109.01 -21.62L108.32 -20.24L107.63 -18.17L107.63 -14.72" stroke="#000" stroke-width="1.45"/></g>
<g transform="translate(0 277.45)" aria-label="10^-6"><path d="M52.2 -15.64L54.04 -16.56L56.8 -19.32L56.8 0M55.88 -18.4L55.88 0M52.2 0L60.48 0M73.36 -19.32L70.6 -18.4L68.76 -15.64L67.84 -11.04L67.84 -8.28L68.76 -3.68L70.6 -0.92L73.36 0L75.2 0L77.96 -0.92L79.8 -3.68L80.72 -8.28L80.72 -11.04L79.8 -15.64L77.96 -18.4L75.2 -19.32L73.36 -19.32M73.36 -19.32L71.52 -18.4L70.6 -17.48L69.68 -15.64L68.76 -11.04L68.76 -8.28L69.68 -3.68L70.6 -1.84L71.52 -0.92L73.36 0M75.2 0L77.04 -0.92L77.96 -1.84L78.88 -3.68L79.8 -8.28L79.8 -11.04L78.88 -15.64L77.96 -17.48L77.04 -18.4L75.2 -19.32M86.24 -20.93L98.66 -20.93M111.77 -27.14L111.08 -26.45L111.77 -25.76L112.46 -26.45L112.46 -27.14L111.77 -28.52L110.39 -29.21L108.32 -29.21L106.25 -28.52L104.87 -27.14L104.18 -25.76L103.49 -23L103.49 -18.86L104.18 -16.79L105.56 -15.41L107.63 -14.72L109.01 -14.72L111.08 -15.41L112.46 -16.79L113.15 -18.86L113.15 -19.55L112.46 -21.62L111.08 -23L109.01 -23.69L108.32 -23.69L106.25 -23L104.87 -21.62L104.18 -19.55M108.32 -29.21L106.94 -28.52L105.56 -27.14L104.87 -25.76L104.18 -23L104.18 -18.86L104.87 -16.79L106.25 -15.41L107.63 -14.72M109.01 -14.72L110.39 -15.41L111.77 -16.79L112.46 -18.86L112.46 -19.55L111.77 -21.62L110.39 -23L109.01 -23.69" stroke="#000" stroke-width="1.45"/></g>
<g transform="translate(0 170.79000000000002)" aria-label="10^-5"><path d="M52.2 -15.64L54.04 -16.56L56.8 -19.32L56.8 0M55.88 -18.4L55.88 0M52.2 0L60.48 0M73.36 -19.32L70.6 -18.4L68.76 -15.64L67.84 -11.04L67.84 -8.28L68.76 -3.68L70.6 -0.92L73.36 0L75.2 0L77.96 -0.92L79.8 -3.68L80.72 -8.28L80.72 -11.04L79.8 -15.64L77.96 -18.4L75.2 -19.32L73.36 -19.32M73.36 -19.32L71.52 -18.4L70.6 -17.48L69.68 -15.64L68.76 -11.04L68.76 -8.28L69.68 -3.68L70.6 -1.84L71.52 -0.92L73.36 0M75.2 0L77.04 -0.92L77.96 -1.84L78.88 -3.68L79.8 -8.28L79.8 -11.04L78.88 -15.64L77.96 -17.48L77.04 -18.4L75.2 -19.32M86.24 -20.93L98.66 -20.93M104.87 -29.21L103.49 -22.31M103.49 -22.31L104.87 -23.69L106.94 -24.38L109.01 -24.38L111.08 -23.69L112.46 -22.31L113.15 -20.24L113.15 -18.86L112.46 -16.79L111.08 -15.41L109.01 -14.72L106.94 -14.72L104.87 -15.41L104.18 -16.1L103.49 -17.48L103.49 -18.17L104.18 -18.86L104.87 -18.17L104.18 -17.48M109.01 -24.38L110.39 -23.69L111.77 -22.31L112.46 -20.24L112.46 -18.86L111.77 -16.79L110.39 -15.41L109.01 -14.72M104.87 -29.21L111.77 -29.21M104.87 -28.52L108.32 -28.52L111.77 -29.21" stroke="#000" stroke-width="1.45"/></g>
<g transform="translate(0 64.13)" aria-label="10^-4"><path d="M52.2 -15.64L54.04 -16.56L56.8 -19.32L56.8 0M55.88 -18.4L55.88 0M52.2 0L60.48 0M73.36 -19.32L70.6 -18.4L68.76 -15.64L67.84 -11.04L67.84 -8.28L68.76 -3.68L70.6 -0.92L73.36 0L75.2 0L77.96 -0.92L79.8 -3.68L80.72 -8.28L80.72 -11.04L79.8 -15.64L77.96 -18.4L75.2 -19.32L73.36 -19.32M73.36 -19.32L71.52 -18.4L70.6 -17.48L69.68 -15.64L68.76 -11.04L68.76 -8.28L69.68 -3.68L70.6 -1.84L71.52 -0.92L73.36 0M75.2 0L77.04 -0.92L77.96 -1.84L78.88 -3.68L79.8 -8.28L79.8 -11.04L78.88 -15.64L77.96 -17.48L77.04 -18.4L75.2 -19.32M86.24 -20.93L98.66 -20.93M109.7 -27.83L109.7 -14.72M110.39 -29.21L110.39 -14.72M110.39 -29.21L102.8 -18.86L113.84 -18.86M107.63 -14.72L112.46 -14.72" stroke="#000" stroke-width="1.45"/></g>
<g transform="translate(0 630.0)" aria-label="mass coordinate M_r (M_sun)"><path d="M286.94 -12.81L286.94 0M287.86 -12.81L287.86 0M287.86 -10.07L289.69 -11.89L292.44 -12.81L294.26 -12.81L297.01 -11.89L297.93 -10.07L297.93 0M294.26 -12.81L296.1 -11.89L297.01 -10.07L297.01 0M297.93 -10.07L299.75 -11.89L302.5 -12.81L304.33 -12.81L307.07 -11.89L307.99 -10.07L307.99 0M304.33 -12.81L306.16 -11.89L307.07 -10.07L307.07 0M284.2 -12.81L287.86 -12.81M284.2 0L290.61 0M294.26 0L300.67 0M304.33 0L310.74 0M317.14 -10.98L317.14 -10.07L316.23 -10.07L316.23 -10.98L317.14 -11.89L318.97 -12.81L322.63 -12.81L324.46 -11.89L325.38 -10.98L326.29 -9.15L326.29 -2.75L327.2 -0.92L328.12 0M325.38 -10.98L325.38 -2.75L326.29 -0.92L328.12 0L329.04 0M325.38 -9.15L324.46 -8.23L318.97 -7.32L316.23 -6.41L315.31 -4.58L315.31 -2.75L316.23 -0.92L318.97 0L321.72 0L323.55 -0.92L325.38 -2.75M318.97 -7.32L317.14 -6.41L316.23 -4.58L316.23 -2.75L317.14 -0.92L318.97 0M342.76 -10.98L343.68 -12.81L343.68 -9.15L342.76 -10.98L341.85 -11.89L340.01 -12.81L336.36 -12.81L334.52 -11.89L333.61 -10.98L333.61 -9.15L334.52 -8.23L336.36 -7.32L340.93 -5.49L342.76 -4.58L343.68 -3.66M333.61 -10.07L334.52 -9.15L336.36 -8.23L340.93 -6.41L342.76 -5.49L343.68 -4.58L343.68 -1.83L342.76 -0.92L340.93 0L337.27 0L335.44 -0.92L334.52 -1.83L333.61 -3.66L333.61 0L334.52 -1.83M358.31 -10.98L359.23 -12.81L359.23 -9.15L358.31 -10.98L357.4 -11.89L355.57 -12.81L351.91 -12.81L350.08 -11.89L349.17 -10.98L349.17 -9.15L350.08 -8.23L351.91 -7.32L356.49 -5.49L358.31 -4.58L359.23 -3.66M349.17 -10.07L350.08 -9.15L351.91 -8.23L356.49 -6.41L358.31 -5.49L359.23 -4.58L359.23 -1.83L358.31 -0.92L356.49 0L352.83 0L351 -0.92L350.08 -1.83L349.17 -3.66L349.17 0L350.08 -1.83M390.34 -10.07L389.43 -9.15L390.34 -8.23L391.25 -9.15L391.25 -10.07L389.43 -11.89L387.6 -12.81L384.85 -12.81L382.11 -11.89L380.28 -10.07L379.36 -7.32L379.36 -5.49L380.28 -2.75L382.11 -0.92L384.85 0L386.68 0L389.43 -0.92L391.25 -2.75M384.85 -12.81L383.02 -11.89L381.19 -10.07L380.28 -7.32L380.28 -5.49L381.19 -2.75L383.02 -0.92L384.85 0M402.24 -12.81L399.49 -11.89L397.66 -10.07L396.75 -7.32L396.75 -5.49L397.66 -2.75L399.49 -0.92L402.24 0L404.07 0L406.81 -0.92L408.64 -2.75L409.56 -5.49L409.56 -7.32L408.64 -10.07L406.81 -11.89L404.07 -12.81L402.24 -12.81M402.24 -12.81L400.41 -11.89L398.58 -10.07L397.66 -7.32L397.66 -5.49L398.58 -2.75L400.41 -0.92L402.24 0M404.07 0L405.9 -0.92L407.73 -2.75L408.64 -5.49L408.64 -7.32L407.73 -10.07L405.9 -11.89L404.07 -12.81M420.54 -12.81L417.79 -11.89L415.96 -10.07L415.05 -7.32L415.05 -5.49L415.96 -2.75L417.79 -0.92L420.54 0L422.37 0L425.11 -0.92L426.94 -2.75L427.86 -5.49L427.86 -7.32L426.94 -10.07L425.11 -11.89L422.37 -12.81L420.54 -12.81M420.54 -12.81L418.71 -11.89L416.88 -10.07L415.96 -7.32L415.96 -5.49L416.88 -2.75L418.71 -0.92L420.54 0M422.37 0L424.2 -0.92L426.03 -2.75L426.94 -5.49L426.94 -7.32L426.03 -10.07L424.2 -11.89L422.37 -12.81M435.18 -12.81L435.18 0M436.09 -12.81L436.09 0M436.09 -7.32L437.01 -10.07L438.84 -11.89L440.67 -12.81L443.41 -12.81L444.33 -11.89L444.33 -10.98L443.41 -10.07L442.5 -10.98L443.41 -11.89M432.43 -12.81L436.09 -12.81M432.43 0L438.84 0M459.88 -19.21L459.88 0M460.8 -19.21L460.8 0M459.88 -10.07L458.05 -11.89L456.22 -12.81L454.39 -12.81L451.65 -11.89L449.82 -10.07L448.9 -7.32L448.9 -5.49L449.82 -2.75L451.65 -0.92L454.39 0L456.22 0L458.05 -0.92L459.88 -2.75M454.39 -12.81L452.56 -11.89L450.73 -10.07L449.82 -7.32L449.82 -5.49L450.73 -2.75L452.56 -0.92L454.39 0M457.14 -19.21L460.8 -19.21M459.88 0L463.54 0M469.95 -19.21L469.03 -18.3L469.95 -17.39L470.86 -18.3L469.95 -19.21M469.95 -12.81L469.95 0M470.86 -12.81L470.86 0M467.2 -12.81L470.86 -12.81M467.2 0L473.61 0M480.01 -12.81L480.01 0M480.93 -12.81L480.93 0M480.93 -10.07L482.76 -11.89L485.5 -12.81L487.33 -12.81L490.08 -11.89L490.99 -10.07L490.99 0M487.33 -12.81L489.16 -11.89L490.08 -10.07L490.08 0M477.27 -12.81L480.93 -12.81M477.27 0L483.67 0M487.33 0L493.74 0M500.14 -10.98L500.14 -10.07L499.23 -10.07L499.23 -10.98L500.14 -11.89L501.97 -12.81L505.63 -12.81L507.46 -11.89L508.38 -10.98L509.29 -9.15L509.29 -2.75L510.21 -0.92L511.12 0M508.38 -10.98L508.38 -2.75L509.29 -0.92L511.12 0L512.04 0M508.38 -9.15L507.46 -8.23L501.97 -7.32L499.23 -6.41L498.31 -4.58L498.31 -2.75L499.23 -0.92L501.97 0L504.72 0L506.55 -0.92L508.38 -2.75M501.97 -7.32L500.14 -6.41L499.23 -4.58L499.23 -2.75L500.14 -0.92L501.97 0M518.44 -19.21L518.44 -3.66L519.36 -0.92L521.19 0L523.02 0L524.85 -0.92L525.76 -2.75M519.36 -19.21L519.36 -3.66L520.27 -0.92L521.19 0M515.7 -12.81L523.02 -12.81M531.25 -7.32L542.23 -7.32L542.23 -9.15L541.32 -10.98L540.4 -11.89L538.57 -12.81L535.83 -12.81L533.08 -11.89L531.25 -10.07L530.34 -7.32L530.34 -5.49L531.25 -2.75L533.08 -0.92L535.83 0L537.66 0L540.4 -0.92L542.23 -2.75M541.32 -7.32L541.32 -10.07L540.4 -11.89M535.83 -12.81L534 -11.89L532.17 -10.07L531.25 -7.32L531.25 -5.49L532.17 -2.75L534 -0.92L535.83 0M564.19 -19.21L564.19 0M565.11 -19.21L570.6 -2.75M564.19 -19.21L570.6 0M577 -19.21L570.6 0M577 -19.21L577 0M577.92 -19.21L577.92 0M561.45 -19.21L565.11 -19.21M577 -19.21L580.66 -19.21M561.45 0L566.94 0M574.26 0L580.66 0M585.92 1.37L585.92 10.98M586.61 1.37L586.61 10.98M586.61 5.49L587.29 3.43L588.67 2.06L590.04 1.37L592.1 1.37L592.78 2.06L592.78 2.75L592.1 3.43L591.41 2.75L592.1 2.06M583.86 1.37L586.61 1.37M583.86 10.98L588.67 10.98M618.86 -22.88L617.03 -21.05L615.2 -18.3L613.37 -14.64L612.46 -10.07L612.46 -6.41L613.37 -1.83L615.2 1.83L617.03 4.58L618.86 6.41M617.03 -21.05L615.2 -17.39L614.29 -14.64L613.37 -10.07L613.37 -6.41L614.29 -1.83L615.2 0.92L617.03 4.58M626.18 -19.21L626.18 0M627.1 -19.21L632.59 -2.75M626.18 -19.21L632.59 0M638.99 -19.21L632.59 0M638.99 -19.21L638.99 0M639.91 -19.21L639.91 0M623.44 -19.21L627.1 -19.21M638.99 -19.21L642.65 -19.21M623.44 0L628.93 0M636.25 0L642.65 0M660.61 4.12L660.5 5.37L660.17 6.58L659.64 7.72L658.92 8.75L658.03 9.64L657.01 10.36L655.87 10.89L654.65 11.21L653.4 11.32L652.15 11.21L650.94 10.89L649.8 10.36L648.77 9.64L647.88 8.75L647.16 7.72L646.63 6.58L646.31 5.37L646.2 4.12L646.31 2.87L646.63 1.65L647.16 0.51L647.88 -0.51L648.77 -1.4L649.8 -2.12L650.94 -2.65L652.15 -2.98L653.4 -3.09L654.65 -2.98L655.87 -2.65L657.01 -2.12L658.03 -1.4L658.92 -0.51L659.64 0.51L660.17 1.65L660.5 2.87L660.61 4.12M654.43 4.12L654.24 4.72L653.72 5.1L653.08 5.1L652.57 4.72L652.37 4.12L652.57 3.51L653.08 3.14L653.72 3.14L654.24 3.51L654.43 4.12M653.81 4.12L653.61 4.47L653.2 4.47L652.99 4.12L653.2 3.76L653.61 3.76L653.81 4.12M665.76 -22.88L667.59 -21.05L669.41 -18.3L671.25 -14.64L672.16 -10.07L672.16 -6.41L671.25 -1.83L669.41 1.83L667.59 4.58L665.76 6.41M667.59 -21.05L669.41 -17.39L670.33 -14.64L671.25 -10.07L671.25 -6.41L670.33 -1.83L669.41 0.92L667.59 4.58" stroke="#000" stroke-width="1.45"/></g>
</g>
</svg>
</body></html>
